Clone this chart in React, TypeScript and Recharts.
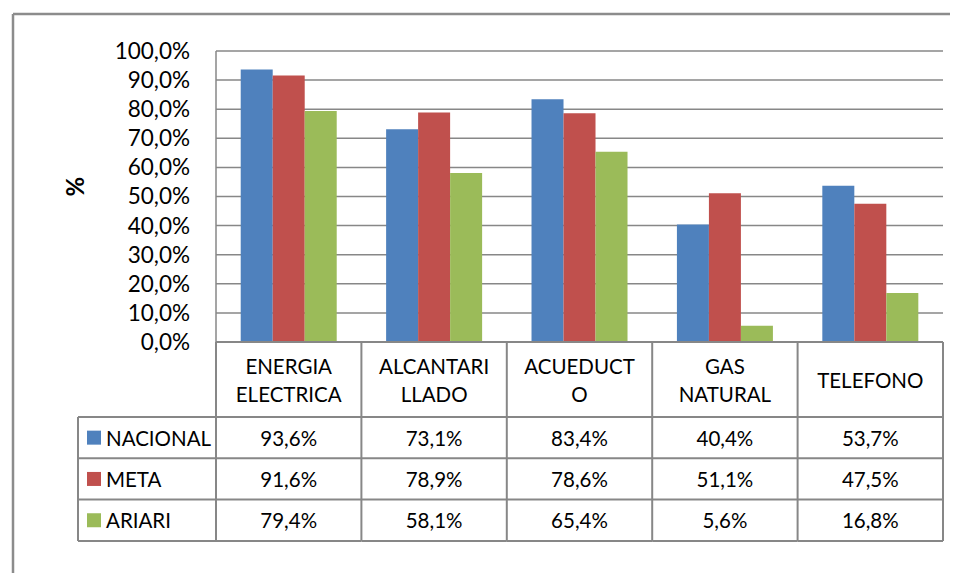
import React from "react";
import { BarChart, Bar, XAxis, YAxis, CartesianGrid } from "recharts";

const categories = ["ENERGIA\nELECTRICA", "ALCANTARI\nLLADO", "ACUEDUCT\nO", "GAS\nNATURAL", "TELEFONO"];
const nacional = [93.6, 73.1, 83.4, 40.4, 53.7];
const meta = [91.6, 78.9, 78.6, 51.1, 47.5];
const ariari = [79.4, 58.1, 65.4, 5.6, 16.8];
const yTicks = [0, 10, 20, 30, 40, 50, 60, 70, 80, 90, 100];

const seriesList = [
  { key: "nacional", name: "NACIONAL", color: "#4F81BD", values: nacional },
  { key: "meta", name: "META", color: "#C0504D", values: meta },
  { key: "ariari", name: "ARIARI", color: "#9BBB59", values: ariari },
];

const data = categories.map((cat, i) => ({
  cat,
  nacional: nacional[i],
  meta: meta[i],
  ariari: ariari[i],
}));

const FONT = "Lato, 'Noto Sans', sans-serif";
const LINE = "#878787";
const fmt = (v: number) => v.toFixed(1).replace(".", ",") + "%";

const headerH = 75;
const rowH = 41.3;
const keyW = 138;

// x axis ticks draw the data table under the plot
const TableTick = (props: any) => {
  const { x, y, index, width, visibleTicksCount } = props;
  const band = width / visibleTicksCount;
  const left = x - band / 2;
  const right = x + band / 2;
  const bottom = y + headerH + rowH * 3;
  const lines = categories[index].split("\n");
  const mid = y + headerH / 2;
  return (
    <g fontFamily={FONT} fontSize={20.5} fill="#000">
      {lines.map((l, j) => (
        <text key={j} x={x} y={mid + (j - (lines.length - 1) / 2) * 28} textAnchor="middle" dominantBaseline="central">
          {l}
        </text>
      ))}
      {seriesList.map((s, r) => (
        <text key={s.key} x={x} y={y + headerH + rowH * (r + 0.5)} textAnchor="middle" dominantBaseline="central">
          {fmt(s.values[index])}
        </text>
      ))}
      <line x1={right} x2={right} y1={y} y2={bottom} stroke={LINE} strokeWidth={2} />
      {index === 0 && <line x1={left} x2={left} y1={y} y2={bottom} stroke={LINE} strokeWidth={2} />}
      {[0, 1, 2, 3].map((r) => (
        <line key={r} x1={index === 0 ? left - keyW : left} x2={right} y1={y + headerH + rowH * r} y2={y + headerH + rowH * r} stroke={LINE} strokeWidth={2} />
      ))}
      {index === 0 && (
        <g>
          <line x1={left - keyW} x2={left - keyW} y1={y + headerH} y2={bottom} stroke={LINE} strokeWidth={2} />
          {seriesList.map((s, r) => {
            const cy = y + headerH + rowH * (r + 0.5);
            return (
              <g key={s.key}>
                <rect x={left - keyW + 9} y={cy - 7} width={14} height={14} fill={s.color} />
                <text x={left - keyW + 28} y={cy} dominantBaseline="central">
                  {s.name}
                </text>
              </g>
            );
          })}
        </g>
      )}
    </g>
  );
};

export default function App() {
  return (
    <div style={{ position: "relative", margin: -8, width: 958, height: 581, overflow: "hidden", background: "#fff" }}>
      {/* outer chart frame: only its top and left edges fall inside the picture */}
      <svg width={958} height={581} style={{ position: "absolute", left: 0, top: 0 }}>
        <line x1={13} x2={958} y1={14} y2={14} stroke="#8c8c8c" strokeWidth={2.5} />
        <line x1={13} x2={13} y1={14} y2={581} stroke="#8c8c8c" strokeWidth={2.5} />
      </svg>
      <div style={{ position: "absolute", left: 8, top: 8 }}>
        <BarChart
          width={950}
          height={565}
          data={data}
          margin={{ top: 43, right: 15, left: 0, bottom: 0 }}
          barCategoryGap="17%"
          barGap={0}
        >
          <CartesianGrid vertical={false} stroke={LINE} strokeWidth={1.5} />
          <XAxis
            dataKey="cat"
            height={231}
            tickLine={false}
            tickSize={0}
            tickMargin={0}
            interval={0}
            axisLine={{ stroke: LINE, strokeWidth: 2 }}
            tick={<TableTick />}
          />
          <YAxis
            width={208}
            domain={[0, 100]}
            ticks={yTicks}
            interval={0}
            tickFormatter={fmt}
            tickLine={false}
            tickSize={0}
            tickMargin={26}
            axisLine={{ stroke: LINE, strokeWidth: 1.5 }}
            tick={{ fill: "#000", fontSize: 22.5, fontFamily: FONT }}
            label={{ value: "%", angle: -90, position: "insideLeft", offset: 67, style: { fontWeight: "bold", fontSize: 24, fontFamily: FONT, fill: "#000" } }}
          />
          {seriesList.map((s) => (
            <Bar key={s.key} dataKey={s.key} name={s.name} fill={s.color} isAnimationActive={false} />
          ))}
        </BarChart>
      </div>
    </div>
  );
}
